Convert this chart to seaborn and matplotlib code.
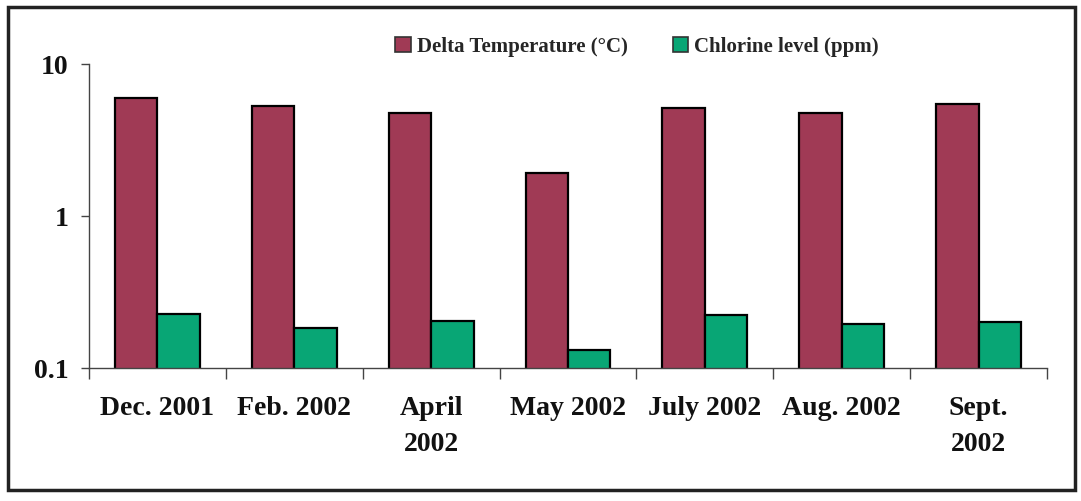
import matplotlib
matplotlib.use("Agg")
import matplotlib.pyplot as plt
import seaborn as sns
import pandas as pd
from matplotlib.patches import Rectangle, Patch

categories = ["Dec. 2001", "Feb. 2002", "April\n2002", "May 2002", "July 2002", "Aug. 2002", "Sept.\n2002"]
delta_temp = [5.95, 5.3, 4.75, 1.92, 5.15, 4.75, 5.45]
chlorine = [0.225, 0.183, 0.203, 0.131, 0.222, 0.194, 0.201]
series_names = ["Delta Temperature (°C)", "Chlorine level (ppm)"]
colors = ["#A03A55", "#08A675"]

df = pd.DataFrame({
    "cat": categories * 2,
    "value": delta_temp + chlorine,
    "series": [series_names[0]] * len(categories) + [series_names[1]] * len(categories),
})

sns.set_style("white")
plt.rcParams["font.family"] = ["Liberation Serif", "DejaVu Serif"]
plt.rcParams["font.weight"] = "bold"

fig = plt.figure(figsize=(10.81, 5.01), dpi=100)
ax = fig.add_axes([89 / 1081, 1 - 368 / 501, (1047 - 89) / 1081, (368 - 64) / 501])

sns.barplot(data=df, x="cat", y="value", hue="series", palette=colors,
            width=0.62, edgecolor="black", linewidth=1.6, ax=ax,
            order=categories, hue_order=series_names, legend=False, saturation=1)
ax.set_yscale("log")
ax.set_ylim(0.1, 10)
ax.set_xlim(-0.5, len(categories) - 0.5)
ax.set_yticks([0.1, 1, 10])
ax.set_yticklabels(["0.1", "1", "10"])
ax.minorticks_off()
ax.set_xlabel("")
ax.set_ylabel("")

for s in ["top", "right"]:
    ax.spines[s].set_visible(False)
for s in ["left", "bottom"]:
    ax.spines[s].set_color("#444444")
    ax.spines[s].set_linewidth(1.0)

ax.tick_params(axis="y", which="major", length=6, width=1, color="#444444",
               direction="out", left=True, pad=9, labelsize=20, labelcolor="#111111")
ax.tick_params(axis="x", which="major", length=0, pad=20, labelsize=20, labelcolor="#111111")
ax.set_xticks([i - 0.5 for i in range(len(categories) + 1)], minor=True)
ax.tick_params(axis="x", which="minor", length=8, width=1, color="#444444",
               direction="out", bottom=True)
for t in ax.get_xticklabels():
    t.set_multialignment("center")
    t.set_linespacing(1.6)
    t.set_fontweight("bold")
for t in ax.get_yticklabels():
    t.set_fontweight("bold")

handles = [Patch(facecolor=c, edgecolor="#333333", linewidth=1.2) for c in colors]
fig.legend(handles, series_names, loc="center left",
           bbox_to_anchor=(395 / 1081, 1 - 47 / 501), ncol=2, frameon=False,
           prop={"family": "Liberation Serif", "weight": "bold", "size": 15},
           handlelength=0.75, handleheight=0.75, handletextpad=0.3,
           columnspacing=2.15, borderaxespad=0, borderpad=0)

fig.patches.append(Rectangle((8 / 1081, 1 - 490 / 501), (1075 - 8) / 1081, (490 - 7) / 501,
                             transform=fig.transFigure, fill=False,
                             edgecolor="#222222", linewidth=2.5))

fig.savefig("out.png", dpi=100)
